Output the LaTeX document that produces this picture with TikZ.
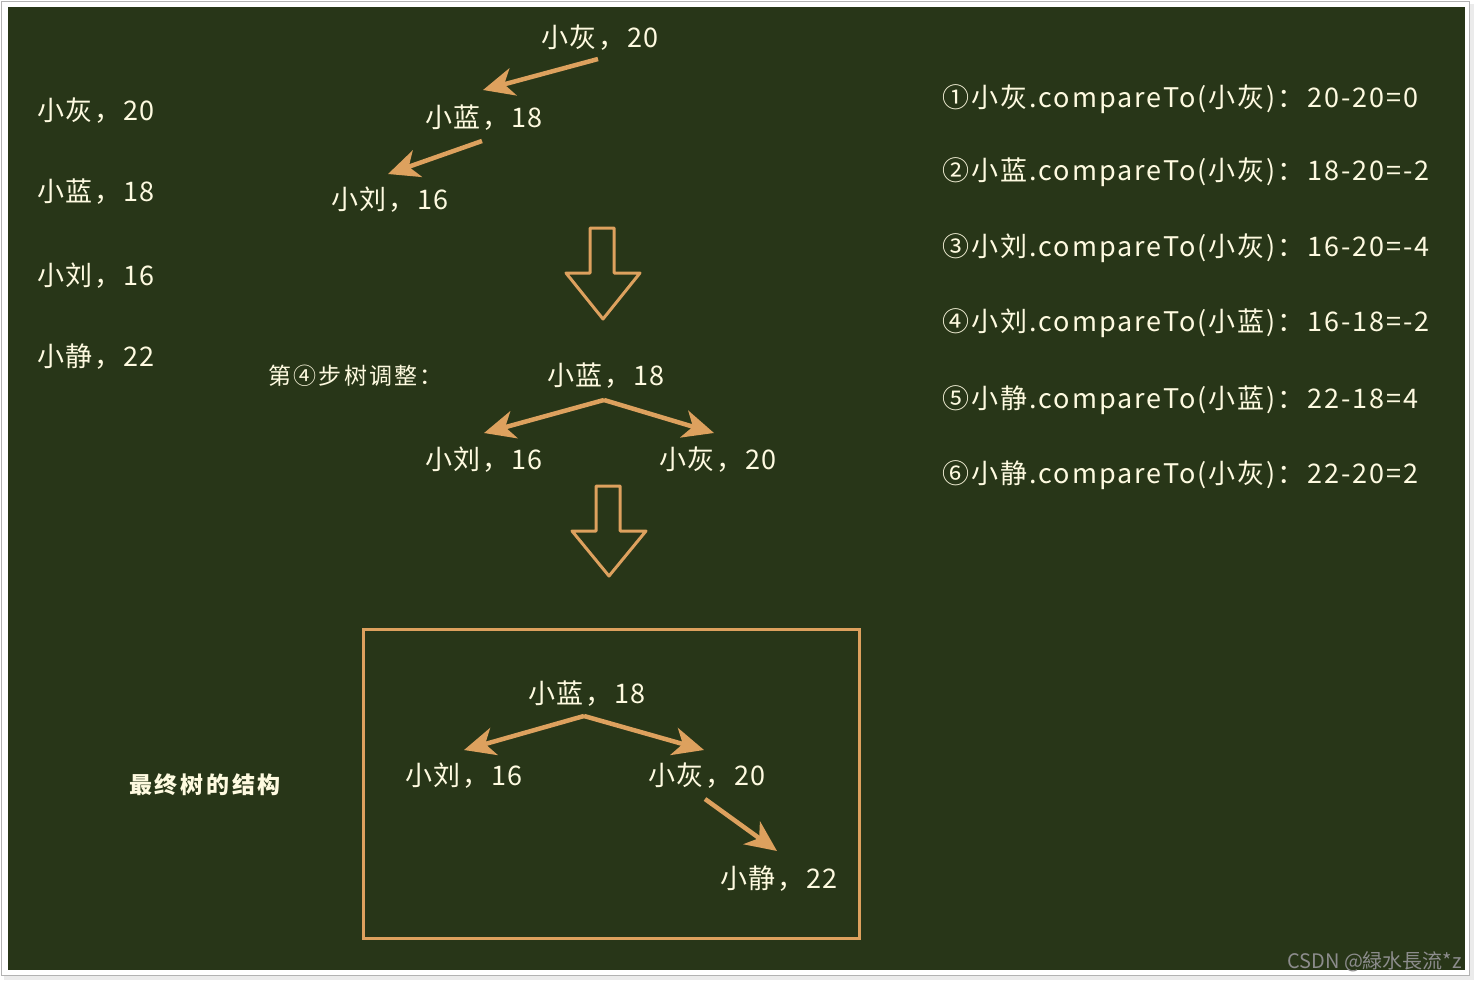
\documentclass[tikz,border=0pt]{standalone}
\usepackage{fontspec}
\setmainfont{Noto Sans CJK SC}
\usetikzlibrary{arrows.meta}
\definecolor{bg}{HTML}{283618}
\definecolor{org}{HTML}{DDA15E}
\definecolor{txt}{HTML}{FEFAE0}
\begin{document}
\begin{tikzpicture}[x=1pt,y=-1pt,
  lbl/.style={text=txt,font=\fontsize{27}{30}\selectfont\addfontfeature{LetterSpace=6},inner sep=1pt},
  cmp/.style={text=txt,font=\fontsize{27}{30}\selectfont\addfontfeature{LetterSpace=6},inner sep=0pt,anchor=west},
  rcmp/.style={cmp,font=\fontsize{27}{30}\selectfont\addfontfeature{LetterSpace=7.5}},
  small/.style={text=txt,font=\fontsize{23}{26}\selectfont\addfontfeature{LetterSpace=10},inner sep=0pt,anchor=west},
  arr/.style={draw=org,line width=4.5pt,-{Stealth[length=31pt,width=28pt,inset=9pt]}},
  hollow/.style={draw=org,line width=3pt,line join=round}]
\useasboundingbox (0,0) rectangle (1477,982);
\fill[white] (0,0) rectangle (1477,982);
\fill[black!8] (4,975) rectangle (1474,980);
\fill[black!8] (1469,4) rectangle (1474,980);
\draw[black!30,line width=1pt] (1.5,1.5) rectangle (1469.5,975.5);
\fill[bg] (8,7) rectangle (1465,970);
% left list
\node[cmp] (l1) at (37,111) {小灰，20};
\node[cmp] (l2) at (37,192) {小蓝，18};
\node[cmp] (l3) at (37,276) {小刘，16};
\node[cmp] (l4) at (37,357) {小静，22};
% top tree
\node[lbl] (t1) at (600,38) {小灰，20};
\node[lbl] (t2) at (484,118) {小蓝，18};
\node[lbl] (t3) at (390,200) {小刘，16};
\draw[arr] ([xshift=-2pt,yshift=-7pt]t1.south) -- ([xshift=-1pt,yshift=14pt]t2.north);
\draw[arr] ([xshift=-2pt,yshift=-9pt]t2.south) -- ([xshift=-2pt,yshift=12pt]t3.north);
% hollow arrows
\draw[hollow] (590,228) -- (614,228) -- (614,273) -- (640,273) -- (603,319) -- (566,273) -- (590,273) -- cycle;
\draw[hollow] (596,486) -- (620,486) -- (620,531) -- (646,531) -- (609,576) -- (572,531) -- (596,531) -- cycle;
% middle
\node[small] (step) at (268,376) {第④步树调整：};
\node[lbl] (m1) at (606,376) {小蓝，18};
\node[lbl] (m2) at (484,460) {小刘，16};
\node[lbl] (m3) at (718,460) {小灰，20};
\draw[arr] ([xshift=-2pt,yshift=-10pt]m1.south) -- ([yshift=13pt]m2.north);
\draw[arr] ([xshift=-2pt,yshift=-10pt]m1.south) -- ([xshift=-4pt,yshift=13pt]m3.north);
% final box
\draw[org,line width=3pt] (363,629) rectangle (859,938);
\node[small,font=\fontsize{23}{26}\selectfont\bfseries\addfontfeature{LetterSpace=12}] (fin) at (129,785) {最终树的结构};
\node[lbl] (f1) at (587,694) {小蓝，18};
\node[lbl] (f2) at (464,776) {小刘，16};
\node[lbl] (f3) at (707,776) {小灰，20};
\node[lbl] (f4) at (779,879) {小静，22};
\draw[arr] ([xshift=-3pt,yshift=-8pt]f1.south) -- ([yshift=12pt]f2.north);
\draw[arr] ([xshift=-3pt,yshift=-8pt]f1.south) -- ([xshift=-3pt,yshift=12pt]f3.north);
\draw[arr] ([xshift=-2pt,yshift=-9pt]f3.south) -- ([xshift=-2pt,yshift=14pt]f4.north);
% right list
\node[rcmp] (r1) at (942,99) {①小灰.compareTo(小灰)：20-20=0};
\node[rcmp] (r2) at (942,172) {②小蓝.compareTo(小灰)：18-20=-2};
\node[rcmp] (r3) at (942,248) {③小刘.compareTo(小灰)：16-20=-4};
\node[rcmp] (r4) at (942,323) {④小刘.compareTo(小蓝)：16-18=-2};
\node[rcmp] (r5) at (942,400) {⑤小静.compareTo(小蓝)：22-18=4};
\node[rcmp] (r6) at (942,475) {⑥小静.compareTo(小灰)：22-20=2};
% watermark
\node[text=black!45,font=\fontsize{20}{22}\selectfont,anchor=east,inner sep=0pt] (wm) at (1462,962) {CSDN @緑水長流*z};
\end{tikzpicture}
\end{document}
